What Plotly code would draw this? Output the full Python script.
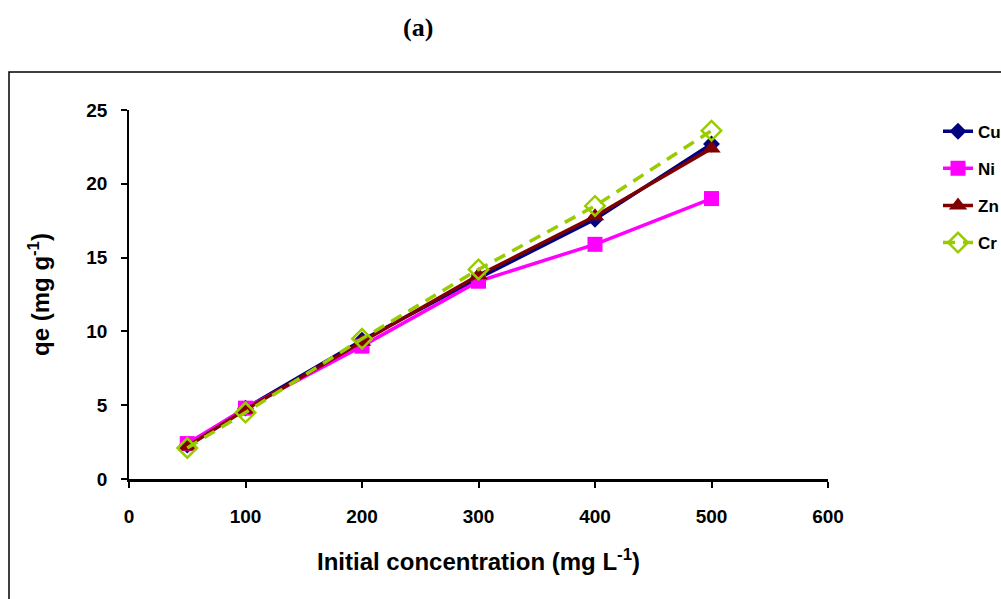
import plotly.graph_objects as go

conc = [50, 100, 200, 300, 400, 500]
cu = [2.3, 4.8, 9.4, 13.6, 17.6, 22.7]
ni = [2.4, 4.8, 9.0, 13.4, 15.9, 19.0]
zn = [2.2, 4.7, 9.3, 13.8, 17.8, 22.4]
cr = [2.1, 4.5, 9.5, 14.2, 18.5, 23.6]

font_family = "Liberation Sans, Arial, sans-serif"

fig = go.Figure()
series = [
    ("Cu", cu, dict(color="#000080", width=3.5), dict(symbol="diamond", size=13, color="#000080")),
    ("Ni", ni, dict(color="#FF00FF", width=3.5), dict(symbol="square", size=15, color="#FF00FF")),
    ("Zn", zn, dict(color="#800000", width=3.5), dict(symbol="triangle-up", size=16, color="#800000")),
    ("Cr", cr, dict(color="#99CC00", width=3.5, dash="12px,8px"),
     dict(symbol="diamond-open", size=15, color="#99CC00", line=dict(width=2.5, color="#99CC00"))),
]
for name, vals, ln, mk in series:
    fig.add_trace(go.Scatter(x=conc, y=vals, mode="lines+markers", name=name,
                             line=ln, marker=mk, legendgroup=name))

fig.update_layout(
    width=1001, height=599,
    margin=dict(l=129, r=173, t=110, b=120, autoexpand=False),
    paper_bgcolor="white", plot_bgcolor="white",
    font=dict(family=font_family, size=18, color="black", weight="bold"),
    showlegend=True,
    legend=dict(x=(938 - 129) / 699, y=0.99, xanchor="left", yanchor="top",
                font=dict(size=17, family=font_family, weight="bold"),
                tracegroupgap=12, bgcolor="rgba(0,0,0,0)"),
    annotations=[dict(text="(a)", x=(418 - 129) / 699, y=(479 - 28) / 369,
                      xref="paper", yref="paper", xanchor="center", yanchor="middle",
                      showarrow=False,
                      font=dict(family="Liberation Serif, Times New Roman, serif", size=26,
                                weight="bold"))],
)

fig.update_xaxes(range=[0, 600], tickvals=[0, 100, 200, 300, 400, 500, 600],
                 showgrid=False, zeroline=False, showline=True, linecolor="black", linewidth=2.5,
                 ticks="outside", ticklen=6, tickcolor="black", tickwidth=1.5,
                 ticklabelstandoff=12, automargin=False,
                 tickfont=dict(size=19, weight="bold"),
                 title=dict(text="Initial concentration (mg L<sup>-1</sup>)",
                            font=dict(size=24, weight="bold"), standoff=28))
fig.update_yaxes(range=[0, 25], tickvals=[0, 5, 10, 15, 20, 25],
                 showgrid=False, zeroline=False, showline=True, linecolor="black", linewidth=1.5,
                 ticks="outside", ticklen=6, tickcolor="black", tickwidth=1.5,
                 ticklabelstandoff=10, automargin=False,
                 tickfont=dict(size=19, weight="bold"),
                 title=dict(text="qe (mg g<sup>-1</sup>)",
                            font=dict(size=24, weight="bold"), standoff=30))

fig.add_shape(type="rect", xref="paper", yref="paper",
              x0=(9 - 129) / 699, x1=(1010 - 129) / 699,
              y0=(479 - 610) / 369, y1=(479 - 72) / 369,
              line=dict(color="black", width=1.5), fillcolor="rgba(0,0,0,0)", layer="below")

fig.write_html("out.html")
